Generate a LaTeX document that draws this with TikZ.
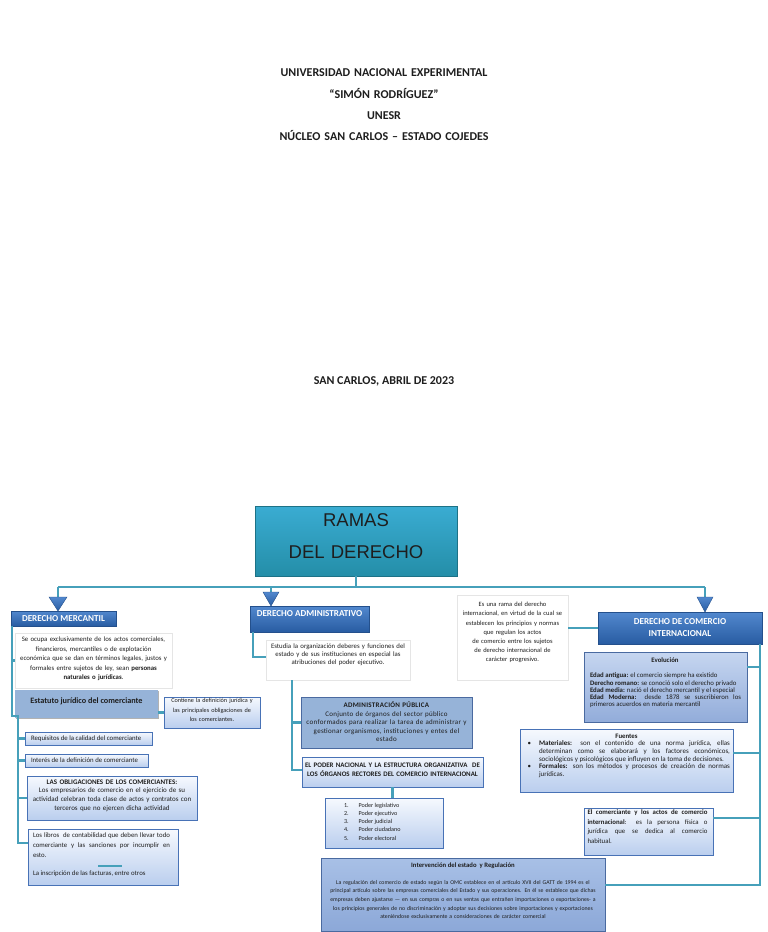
\documentclass[tikz,border=0pt]{standalone}
\usepackage{fontspec}
\setmainfont{Carlito}
\newfontfamily\arialf{Liberation Sans}
\newfontfamily\spacedf[LetterSpace=4]{Carlito}
\usetikzlibrary{shadows}
\newcommand\fs[2]{\fontsize{#1}{#2}\selectfont}
\newcommand\bx[6]{\node[#2, minimum width={#5-#3}, minimum height={#6-#4}] (#1) at (#3,#4) {};}
\newcommand\bul{\leavevmode\llap{\textbullet\hspace{8pt}}}
\definecolor{tealc}{RGB}{70,160,186}
\definecolor{ttop}{RGB}{58,172,210}
\definecolor{tbot}{RGB}{36,142,168}
\definecolor{htop}{RGB}{82,136,206}
\definecolor{hbot}{RGB}{40,92,162}
\definecolor{hbd}{RGB}{36,80,140}
\definecolor{mfill}{RGB}{150,179,216}
\definecolor{mbd}{RGB}{74,106,160}
\definecolor{ltop}{RGB}{246,249,254}
\definecolor{lbot}{RGB}{186,206,238}
\definecolor{lbd}{RGB}{72,114,182}
\definecolor{etop}{RGB}{198,214,240}
\definecolor{ebot}{RGB}{146,172,218}
\definecolor{itop}{RGB}{168,192,230}
\definecolor{ibot}{RGB}{140,168,216}
\definecolor{txt}{RGB}{30,30,30}
\tikzset{
  conn/.style={draw=tealc, line width=2.4pt},
  shd/.style={drop shadow={shadow xshift=1.2pt, shadow yshift=-1.2pt, opacity=0.3, fill=black}},
  abox/.style={anchor=north west, inner sep=0pt, outer sep=0pt},
  titlebox/.style={abox, top color=ttop, bottom color=tbot, draw=tbot!80!black, line width=0.3pt, shd},
  hdrbox/.style={abox, top color=htop, bottom color=hbot, draw=hbd, line width=0.3pt, shd},
  wbox/.style={abox, fill=white, draw=black!10, line width=0.3pt, shd},
  sbox/.style={abox, fill=mfill, shd},
  mbox/.style={abox, fill=mfill, draw=mbd, line width=0.6pt, shd},
  ebox/.style={abox, top color=etop, bottom color=ebot, draw=mbd, line width=0.6pt, shd},
  ibox/.style={abox, top color=itop, bottom color=ibot, draw=mbd, line width=0.6pt, shd},
  lbox/.style={abox, top color=ltop, bottom color=lbot, draw=lbd, line width=0.6pt, shd},
  tx/.style={inner sep=0pt, outer sep=0pt, text=txt, align=center},
  hx/.style={inner sep=0pt, text=white, font=\bfseries\fs{9.1}{12}, align=center},
  tri/.style={top color=htop, bottom color=hbot, draw=hbd, line width=0.4pt},
}
\begin{document}
\begin{tikzpicture}[x=1pt,y=-1pt]
\useasboundingbox (0,0) rectangle (768,932);
\fill[white] (0,0) rectangle (768,932);

% cover texts
\node[tx, font=\bfseries\fs{12}{21.3}, text width=400] (hdr) at (384,105)
  {UNIVERSIDAD NACIONAL EXPERIMENTAL\\“SIMÓN RODRÍGUEZ”\\UNESR\\NÚCLEO SAN CARLOS – ESTADO COJEDES};
\node[tx, font=\bfseries\fs{12}{14}] (fecha) at (384,381) {SAN CARLOS, ABRIL DE 2023};

% title
\bx{title}{titlebox}{255}{506}{457}{576}
\node[tx, font=\arialf\fs{18.5}{32}, text width=200] (title-t) at (356,536) {RAMAS\\DEL DERECHO};

% bus and triangles
\coordinate (busL) at (58,587);
\coordinate (busA) at (271,587);
\coordinate (busR) at (705,587);
\coordinate (tL) at (58,597);
\coordinate (tA) at (271,592);
\coordinate (tR) at (705,597);
\draw[conn] (title.south) -- (title.south |- busL);
\draw[conn] (busL) -- (busR);
\draw[conn] (busL) -- (tL);
\draw[conn] (busA) -- (tA);
\draw[conn] (busR) -- (tR);
\draw[tri] (49,597) -- (67,597) -- (58,611) -- cycle;
\draw[tri] (263,592) -- (279,592) -- (271,606) -- cycle;
\draw[tri] (697,597) -- (713,597) -- (705,612) -- cycle;

% headers
\node[hdrbox, hx, minimum width=105, minimum height=15] (merc) at (11,611) {DERECHO MERCANTIL};
\node[hdrbox, minimum width=119, minimum height=26] (adm) at (250,606) {};
\node[hx] (adm-t) at (309.5,614) {DERECHO ADMINISTRATIVO};
\node[hdrbox, hx, minimum width=164, minimum height=32] (cint) at (598,612) {DERECHO DE COMERCIO\\INTERNACIONAL};

% ---------- left column ----------
\bx{mdesc}{wbox}{15}{633}{172}{688}
\node[tx, font=\fs{6.8}{9.5}, text width=160] (mdesc-t) at (93.5,659)
  {Se ocupa exclusivamente de los actos comerciales,\\financieros, mercantiles o de explotación\\económica que se dan en términos legales, justos y\\formales entre sujetos de ley, sean \textbf{personas}\\\textbf{naturales o jurídicas}.};

\bx{estatuto}{sbox}{15}{690}{158}{718}
\node[tx, font=\bfseries\fs{8.2}{10}] (estatuto-t) at (86.5,701) {Estatuto jurídico del comerciante};

\bx{contiene}{lbox}{164}{697}{260}{728}
\node[tx, font=\fs{6.2}{9.5}, text width=96] (contiene-t) at (212,710)
  {Contiene la definición jurídica y\\las principales obligaciones de\\los comerciantes.};

\bx{req}{lbox}{25}{732}{152}{745}
\node[tx, font=\fs{6.8}{8}, anchor=west] (req-t) at (31,738.5) {Requisitos de la calidad del comerciante};
\bx{int}{lbox}{25}{754}{148}{767}
\node[tx, font=\fs{6.8}{8}, anchor=west] (int-t) at (31,760.5) {Interés de la definición de comerciante};

\bx{oblig}{lbox}{27}{776}{197}{820}
\node[tx, font=\fs{7}{8.6}, text width=168] (oblig-t) at (112,795.5)
  {\textbf{LAS OBLIGACIONES DE LOS COMERCIANTES:}\\Los empresarios de comercio en el ejercicio de su\\actividad celebran toda clase de actos y contratos con\\terceros que no ejercen dicha actividad};

\bx{libros}{lbox}{28}{829}{178}{885}
\node[tx, font=\fs{6.8}{10}, text width=137, align=justify, anchor=north west] (libros-t) at (33,833)
  {Los libros\ \ de contabilidad que deben llevar todo\linebreak comerciante y las sanciones por incumplir en\linebreak esto.};
\draw[tealc, line width=1.6pt] (98,866) -- (122,866);
\node[tx, font=\fs{6.8}{10}, anchor=west] (libros-t2) at (33,874) {La inscripción de las facturas, entre otros};

\coordinate (sp1) at (12,716);
\coordinate (sp2) at (18,716);
\coordinate (sp3) at (18,843);
\draw[conn] (merc.south -| sp1) -- (sp1) -- (sp2) -- (sp3) -- (sp3 -| libros.west);
\draw[conn] (mdesc.west -| sp1) -- (mdesc.west);
\draw[conn] (req.west -| sp2) -- (req.west);
\draw[conn] (int.west -| sp2) -- (int.west);
\draw[conn] (oblig.west -| sp2) -- (oblig.west);
\draw[conn] (contiene.west -| estatuto.east) -- (contiene.west);

% ---------- middle column ----------
\bx{estudia}{wbox}{266}{640}{410}{680}
\node[tx, font=\fs{6.8}{8.2}, text width=144] (estudia-t) at (338,654.5)
  {Estudia la organización deberes y funciones del\\estado y de sus instituciones en especial las\\atribuciones del poder ejecutivo.};

\bx{adpub}{mbox}{301}{697}{472}{748}
\node[tx, font=\spacedf\fs{7}{8.5}, text width=170] (adpub-t) at (386.5,722)
  {\textbf{ADMINISTRACIÓN PÚBLICA}\\Conjunto de órganos del sector público\\conformados para realizar la tarea de administrar y\\gestionar organismos, instituciones y entes del\\estado};

\bx{poder}{lbox}{302}{757}{483}{787}
\node[tx, font=\bfseries\fs{6.9}{9}, text width=180] (poder-t) at (392.5,770)
  {EL PODER NACIONAL Y LA ESTRUCTURA ORGANIZATIVA\ \ DE\\LOS ÓRGANOS RECTORES DEL COMERCIO INTERNACIONAL};

\bx{lista}{lbox}{325}{798}{443}{848}
\node[tx, font=\fs{6.1}{8.3}, anchor=west, align=left] (lista-t) at (344,822)
  {\begin{tabular}{@{}r@{\hspace{10pt}}l@{}}1.&Poder legislativo\\2.&Poder ejecutivo\\3.&Poder judicial\\4.&Poder ciudadano\\5.&Poder electoral\end{tabular}};

\bx{interv}{ibox}{321}{858}{605}{931}
\node[tx, font=\bfseries\fs{6.7}{8}] (interv-h) at (463,865.5) {Intervención del estado\ \ y Regulación};
\node[tx, font=\fs{5.8}{8.7}, text width=320] (interv-t) at (463,899.5)
  {La regulación del comercio de estado según la OMC establece en el artículo XVII del GATT de 1994 es el\\principal artículo sobre las empresas comerciales del Estado y sus operaciones. En él se establece que dichas\\empresas deben ajustarse — en sus compras o en sus ventas que entrañen importaciones o exportaciones- a\\los principios generales de no discriminación y adoptar sus decisiones sobre importaciones y exportaciones\\ateniéndose exclusivamente a consideraciones de carácter comercial};

\coordinate (a1) at (253,657);
\coordinate (a2) at (292,770);
\draw[conn] (adm.south -| a1) -- (a1) -- (a1 -| estudia.west);
\draw[conn] (estudia.south -| a2) -- (a2) -- (a2 -| poder.west);
\draw[conn] (adpub.west -| a2) -- (adpub.west);
\draw[conn] (poder.south) -- (lista.north -| poder.south);

% ---------- right column ----------
\bx{rama}{wbox}{457}{595}{568}{680}
\node[tx, font=\fs{6.5}{9.2}, text width=110] (rama-t) at (512.5,632.5)
  {Es una rama del derecho\\internacional, en virtud de la cual se\\establecen los principios y normas\\que regulan los actos\\de comercio entre los sujetos\\de derecho internacional de\\carácter progresivo.};

\bx{evol}{ebox}{584}{652}{747}{722}
\node[tx, font=\bfseries\fs{6.8}{8}] (evol-h) at (665,660) {Evolución};
\node[tx, font=\fs{6.8}{7.3}, text width=151, align=justify] (evol-t) at (665.5,690.5)
  {\textbf{Edad antigua:} el comercio siempre ha existido\\\textbf{Derecho romano:} se conoció solo el derecho privado\\\textbf{Edad media:} nació el derecho mercantil y el especial\\\textbf{Edad Moderna:} desde 1878 se suscribieron los\linebreak primeros acuerdos en materia mercantil};

\bx{fuentes}{lbox}{520}{729}{733}{792}
\node[tx, font=\bfseries\fs{6.8}{8}] (fuentes-h) at (626.5,736) {Fuentes};
\node[tx, font=\fs{7}{7.6}, text width=191, align=justify, anchor=north west] (fuentes-t) at (539,741)
  {\bul\textbf{Materiales:} son el contenido de una norma jurídica, ellas\linebreak determinan como se elaborará y los factores económicos,\linebreak sociológicos y psicológicos que influyen en la toma de decisiones.\par
   \bul\textbf{Formales:} son los métodos y procesos de creación de normas\linebreak jurídicas.};

\bx{comer}{lbox}{584}{808}{713}{855}
\node[tx, font=\fs{6.8}{9.5}, text width=120, align=justify, anchor=north west] (comer-t) at (587.5,810)
  {\textbf{El comerciante y los actos de comercio}\linebreak \textbf{internacional}: es la persona física o\linebreak jurídica que se dedica al comercio\linebreak habitual.};

\coordinate (r1) at (760,885);
\coordinate (e1) at (760,667);
\coordinate (e2) at (760,753);
\coordinate (e3) at (760,818);
\draw[conn] (cint.west -| rama.east) -- (cint.west);
\draw[conn] (cint.south -| r1) -- (r1) -- (r1 -| interv.east);
\draw[conn] (e1 -| evol.east) -- (e1);
\draw[conn] (e2 -| fuentes.east) -- (e2);
\draw[conn] (e3 -| comer.east) -- (e3);
\end{tikzpicture}
\end{document}
